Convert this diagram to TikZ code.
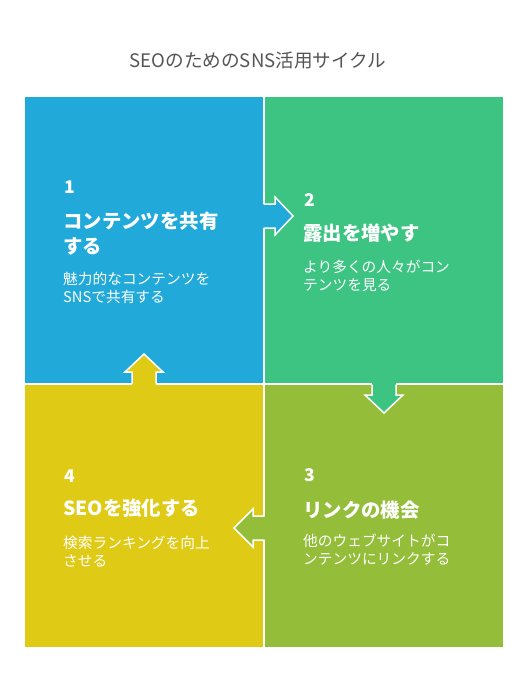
\documentclass[tikz,border=0pt]{standalone}
\usepackage{fontspec}
\setmainfont{Noto Sans CJK JP}
\definecolor{cblue}{HTML}{21A9D9}
\definecolor{cgreen}{HTML}{3DC483}
\definecolor{colive}{HTML}{94BE3A}
\definecolor{cyellow}{HTML}{DFCA16}
\definecolor{ctitle}{HTML}{555555}
\tikzset{
  quad/.style={rectangle, inner sep=0, minimum width=238pt, minimum height=286pt},
  numtxt/.style={anchor=west, inner sep=0, text=white, font=\bfseries\fontsize{17.5}{17.5}\selectfont},
  headtxt/.style={anchor=north west, inner sep=0, align=left, text=white, font=\bfseries\fontsize{19.4}{25}\selectfont},
  desctxt/.style={anchor=north west, inner sep=0, align=left, text=white, font=\fontsize{14.7}{17.5}\selectfont},
  arrowline/.style={draw=white, line width=1.5pt, line join=miter},
  titletxt/.style={inner sep=0, text=ctitle, font=\fontsize{18.6}{18.6}\selectfont},
}
\begin{document}
\begin{tikzpicture}[x=1pt,y=-1pt]
\useasboundingbox[fill=white] (0,0) rectangle (528,696);
\node[titletxt] (title) at (258,61) {SEOのためのSNS活用サイクル};
% quadrants
\node[quad, fill=cblue, minimum height=286pt] (q1) at (144,240) {};
\node[quad, fill=cgreen, minimum height=286pt] (q2) at (384,240) {};
\node[quad, fill=colive, minimum height=262pt] (q3) at (384,516) {};
\node[quad, fill=cyellow, minimum height=262pt] (q4) at (144,516) {};
% arrows
\fill[cblue] (262,204) -- (275,204) -- (275,197) -- (293,216) -- (275,235) -- (275,228) -- (262,228) -- cycle;
\draw[arrowline] (263.5,204) -- (275,204) -- (275,197) -- (293,216) -- (275,235) -- (275,228) -- (263.5,228);
\fill[cgreen] (372,382) -- (372,395) -- (365,395) -- (384,413) -- (403,395) -- (396,395) -- (396,382) -- cycle;
\draw[arrowline] (372,384.5) -- (372,395) -- (365,395) -- (384,413) -- (403,395) -- (396,395) -- (396,384.5);
\fill[colive] (266,516) -- (253,516) -- (253,509) -- (234,528) -- (253,547) -- (253,540) -- (266,540) -- cycle;
\draw[arrowline] (264.5,516) -- (253,516) -- (253,509) -- (234,528) -- (253,547) -- (253,540) -- (264.5,540);
\fill[cyellow] (132,386) -- (132,372) -- (125,372) -- (144,354) -- (163,372) -- (156,372) -- (156,386) -- cycle;
\draw[arrowline] (132,383.5) -- (132,372) -- (125,372) -- (144,354) -- (163,372) -- (156,372) -- (156,383.5);
% texts
\node[numtxt] (n1) at (64,187) {1};
\node[headtxt] (h1) at (63,212) {コンテンツを共有\\する};
\node[desctxt] (d1) at (63,272) {魅力的なコンテンツを\\SNSで共有する};
\node[numtxt] (n2) at (304,200) {2};
\node[headtxt] (h2) at (303,224) {露出を増やす};
\node[desctxt] (d2) at (303,260) {より多くの人々がコン\\テンツを見る};
\node[numtxt] (n3) at (304,475) {3};
\node[headtxt] (h3) at (303,501) {リンクの機会};
\node[desctxt] (d3) at (303,534) {他のウェブサイトがコ\\ンテンツにリンクする};
\node[numtxt] (n4) at (64,476) {4};
\node[headtxt] (h4) at (63,499) {SEOを強化する};
\node[desctxt] (d4) at (63,536) {検索ランキングを向上\\させる};
\end{tikzpicture}
\end{document}
